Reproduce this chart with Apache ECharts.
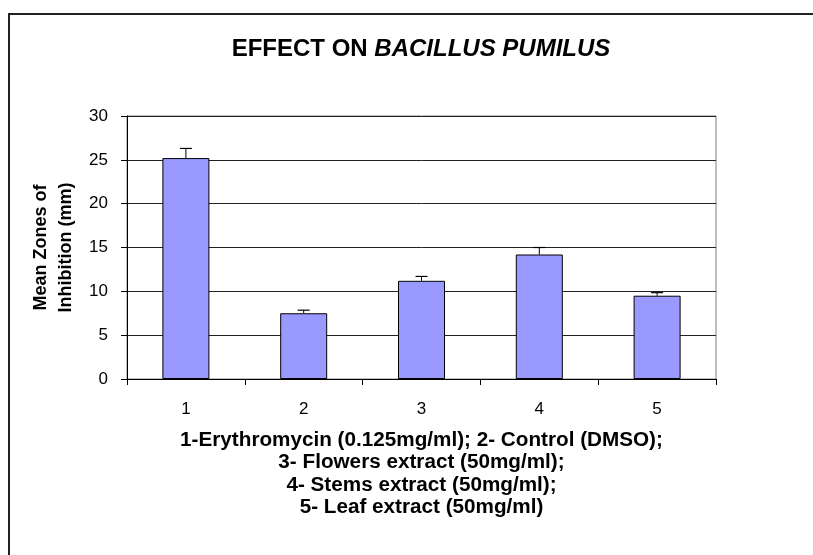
<!DOCTYPE html>
<html>
<head>
<meta charset="utf-8">
<script src="https://cdn.jsdelivr.net/npm/echarts@6/dist/echarts.min.js"></script>
<style>
html,body{margin:0;padding:0;background:#fff;}
#chart{width:813px;height:555px;}
</style>
</head>
<body>
<div id="chart"></div>
<script>
const categories = ['1', '2', '3', '4', '5'];
const meanValues = [25.2, 7.5, 11.2, 14.2, 9.5];
const errorValues = [1.1, 0.35, 0.5, 0.8, 0.35];
const yTicks = { min: 0, max: 30, interval: 5 };
const xAxisName = '1-Erythromycin (0.125mg/ml); 2- Control (DMSO);\n3- Flowers extract (50mg/ml);\n4- Stems extract (50mg/ml);\n5- Leaf extract (50mg/ml)';
const yAxisName = 'Mean Zones of\nInhibition (mm)';

const FONT = '"Liberation Sans", Arial, sans-serif';
const chart = echarts.init(document.getElementById('chart'), null, { renderer: 'canvas' });

const errorData = meanValues.map((v, i) => [i, v, errorValues[i]]);

chart.setOption({
  backgroundColor: '#ffffff',
  animation: false,
  textStyle: { fontFamily: FONT, color: '#000' },
  title: {
    text: '{b|EFFECT ON }{i|BACILLUS PUMILUS}',
    left: 416,
    textAlign: 'center',
    top: 32,
    textStyle: {
      rich: {
        b: { fontFamily: FONT, fontWeight: 'bold', fontSize: 24, color: '#000' },
        i: { fontFamily: FONT, fontWeight: 'bold', fontStyle: 'italic', fontSize: 24, color: '#000' }
      }
    }
  },
  graphic: [{
    type: 'rect',
    shape: { x: 9, y: 14, width: 900, height: 700 },
    style: { fill: null, stroke: '#222', lineWidth: 2 },
    silent: true,
    z: -10
  }],
  grid: {
    left: 127, right: 97, top: 116, bottom: 176,
    show: true, borderColor: '#808080', borderWidth: 1, backgroundColor: 'transparent'
  },
  xAxis: {
    type: 'category',
    data: categories,
    boundaryGap: true,
    axisLine: { lineStyle: { color: '#000', width: 1 } },
    axisTick: { show: true, length: 6, inside: false, lineStyle: { color: '#000' } },
    axisLabel: { fontSize: 17, color: '#000', margin: 22, fontFamily: FONT },
    splitLine: { show: false },
    name: xAxisName,
    nameLocation: 'middle',
    nameGap: 50,
    nameTextStyle: { fontFamily: FONT, fontWeight: 'bold', fontSize: 20.7, lineHeight: 22.5, color: '#000', verticalAlign: 'top' }
  },
  yAxis: {
    type: 'value',
    min: yTicks.min, max: yTicks.max, interval: yTicks.interval,
    axisLine: { show: true, lineStyle: { color: '#000', width: 1 } },
    axisTick: { show: true, length: 6, lineStyle: { color: '#000' } },
    axisLabel: { fontSize: 17, color: '#000', margin: 19, fontFamily: FONT },
    splitLine: { show: true, lineStyle: { color: '#222', width: 1 } },
    name: yAxisName,
    nameLocation: 'middle',
    nameRotate: 90,
    nameGap: 48,
    nameTextStyle: { fontFamily: FONT, fontWeight: 'bold', fontSize: 18, lineHeight: 25, color: '#000' }
  },
  series: [
    {
      type: 'bar',
      data: meanValues,
      barWidth: 47,
      itemStyle: { color: '#9999FF', borderColor: '#000', borderWidth: 1 }
    },
    {
      type: 'custom',
      data: errorData,
      z: 5,
      renderItem: function (params, api) {
        const idx = api.value(0);
        const v = api.value(1);
        const e = api.value(2);
        const base = api.coord([idx, v]);
        const top = api.coord([idx, v + e]);
        const half = 6;
        return {
          type: 'group',
          children: [
            { type: 'line', shape: { x1: base[0], y1: base[1], x2: top[0], y2: top[1] }, style: { stroke: '#000', lineWidth: 1 } },
            { type: 'line', shape: { x1: top[0] - half, y1: top[1], x2: top[0] + half, y2: top[1] }, style: { stroke: '#000', lineWidth: 1.2 } }
          ]
        };
      }
    }
  ]
});
</script>
</body>
</html>
